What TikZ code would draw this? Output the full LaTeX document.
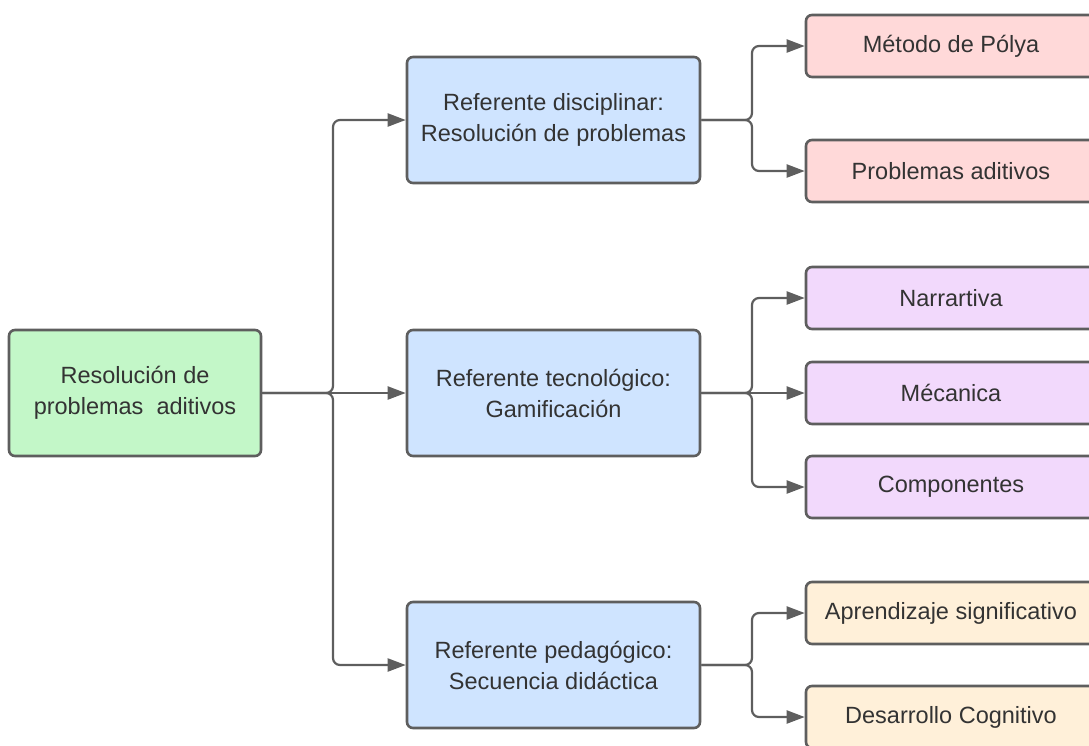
\documentclass[tikz,border=0pt]{standalone}
\usepackage{fontspec}
\setmainfont{Liberation Sans}
\usetikzlibrary{arrows.meta}
\definecolor{edgegray}{HTML}{5E5E5E}
\definecolor{txt}{HTML}{333333}
\definecolor{rootfill}{HTML}{C3F7C8}
\definecolor{reffill}{HTML}{CFE4FF}
\definecolor{redfill}{HTML}{FFD9D9}
\definecolor{violetfill}{HTML}{F2D9FC}
\definecolor{creamfill}{HTML}{FFF0D9}
\tikzset{
  box/.style={draw=edgegray, line width=2.6pt, rounded corners=6pt, text=txt,
    align=center, inner sep=0pt, font=\fontsize{23.5}{31}\selectfont},
  rootbox/.style={box, fill=rootfill, minimum width=252pt, minimum height=126pt},
  refbox/.style={box, fill=reffill, minimum width=293pt, minimum height=126pt},
  leaf/.style={box, minimum width=290pt, minimum height=62pt},
  link/.style={draw=edgegray, line width=2.2pt, rounded corners=7pt,
    -{Triangle[length=18pt,width=13pt]}},
}
\begin{document}
\begin{tikzpicture}[x=1pt,y=-1pt]
\useasboundingbox (0,0) rectangle (1089,745);
\clip (0,0) rectangle (1089,745);

% root and the three reference boxes
\node[rootbox] (root) at (135,393) {Resolución de\\problemas\ \ aditivos};
\node[refbox] (dis) at (553.5,120) {Referente disciplinar:\\Resolución de problemas};
\node[refbox] (tec) at (553.5,393) {Referente tecnológico:\\Gamificación};
\node[refbox] (ped) at (553.5,665) {Referente pedagógico:\\Secuencia didáctica};

% leaves
\node[leaf, fill=redfill] (polya) at (951,46) {Método de Pólya};
\node[leaf, fill=redfill] (aditivos) at (951,171) {Problemas aditivos};
\node[leaf, fill=violetfill] (narr) at (951,298) {Narrartiva};
\node[leaf, fill=violetfill] (mec) at (951,393) {Mécanica};
\node[leaf, fill=violetfill] (comp) at (951,487) {Componentes};
\node[leaf, fill=creamfill] (aprend) at (951,613) {Aprendizaje significativo};
\node[leaf, fill=creamfill] (desarr) at (951,717) {Desarrollo Cognitivo};

% branching points
\coordinate (j0) at (333,393);
\coordinate (j1) at (752,120);
\coordinate (j2) at (752,393);
\coordinate (j3) at (752,665);

% root to references
\draw[link] (root.east) -- (j0) |- (dis.west);
\draw[link] (root.east) -- (tec.west);
\draw[link] (root.east) -- (j0) |- (ped.west);

% references to leaves
\draw[link] (dis.east) -- (j1) |- (polya.west);
\draw[link] (dis.east) -- (j1) |- (aditivos.west);
\draw[link] (tec.east) -- (j2) |- (narr.west);
\draw[link] (tec.east) -- (mec.west);
\draw[link] (tec.east) -- (j2) |- (comp.west);
\draw[link] (ped.east) -- (j3) |- (aprend.west);
\draw[link] (ped.east) -- (j3) |- (desarr.west);
\end{tikzpicture}
\end{document}
